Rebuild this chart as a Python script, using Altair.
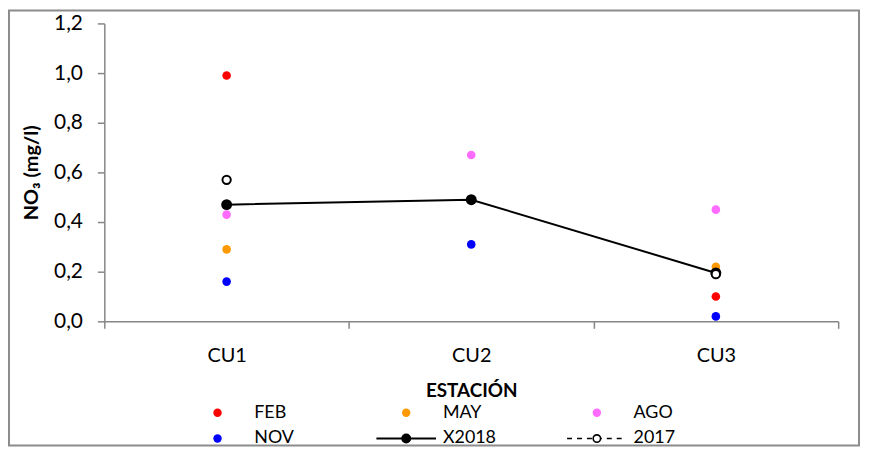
import altair as alt
import pandas as pd

# ---- data ----
stations = ["CU1", "CU2", "CU3"]
feb = [0.99, None, 0.10]
may = [0.29, None, 0.22]
ago = [0.43, 0.67, 0.45]
nov = [0.16, 0.31, 0.02]
x2018 = [0.47, 0.49, 0.195]
y2017 = [0.57, None, 0.19]

month_names = ["FEB", "MAY", "AGO", "NOV"]
month_colors = ["#FF0000", "#FF9900", "#FF6BFF", "#0000FF"]
legend_names = ["FEB", "MAY", "AGO", "NOV", "X2018", "2017"]
y_ticks = [0.0, 0.2, 0.4, 0.6, 0.8, 1.0, 1.2]

# ---- tables ----
rows = []
for name, vals in zip(month_names, [feb, may, ago, nov]):
    for s, v in zip(stations, vals):
        if v is not None:
            rows.append({"station": s, "series": name, "value": v})
months_df = pd.DataFrame(rows)
mean_df = pd.DataFrame({"station": stations, "value": x2018})
y17_df = pd.DataFrame({"station": stations, "value": y2017}).dropna()

W, H = 739, 300
FONT = "Lato"

x_axis = alt.Axis(
    title="ESTACIÓN", titleFont=FONT, titleFontSize=19, titleFontWeight="bold",
    titleColor="black", titlePadding=17,
    labelFont=FONT, labelFontSize=20, labelColor="black", labelPadding=17,
    labelAngle=0, domainColor="#868686", tickColor="#868686", tickSize=7,
    tickBand="extent", domainWidth=1.5, tickWidth=1.5,
)
y_axis = alt.Axis(
    title="NO₃ (mg/l)", titleFont=FONT, titleFontSize=20, titleFontWeight="bold",
    titleColor="black", titlePadding=12,
    labelFont=FONT, labelFontSize=21, labelColor="black", labelPadding=15,
    values=y_ticks, labelExpr="replace(format(datum.value, '.1f'), '.', ',')",
    grid=False, domainColor="#868686", tickColor="#868686", tickSize=7,
    domainWidth=1.5, tickWidth=1.5,
)

xs = alt.Scale(type="band", domain=stations, paddingInner=0, paddingOuter=0)
ys = alt.Scale(domain=[0, 1.2], nice=False, zero=True)


def X():
    return alt.X("station:N", scale=xs, bandPosition=0.5, axis=x_axis)


def Y():
    return alt.Y("value:Q", scale=ys, axis=y_axis)


months = alt.Chart(months_df).mark_circle(size=75, opacity=1).encode(
    x=X(), y=Y(),
    color=alt.Color("series:N", scale=alt.Scale(domain=month_names, range=month_colors), legend=None),
)
mean_line = alt.Chart(mean_df).mark_line(color="black", strokeWidth=2).encode(x=X(), y=Y())
mean_pts = alt.Chart(mean_df).mark_circle(size=120, color="black", opacity=1).encode(x=X(), y=Y())
pts17 = alt.Chart(y17_df).mark_circle(
    size=70, fill="white", stroke="black", strokeWidth=2, opacity=1
).encode(x=X(), y=Y())

data_layer = alt.layer(months, mean_line, mean_pts, pts17)

# ---- manual legend (layout computed here, not in the data lists) ----
col_x = [114, 304, 496]
row_y = [392, 418]
leg_rows = []
for i, name in enumerate(legend_names):
    c, r = i % 3, i // 3
    kind = "dot" if i < 4 else ("mean" if name == "X2018" else "y17")
    color = month_colors[i] if i < 4 else "black"
    leg_rows.append({"name": name, "color": color, "kind": kind,
                     "sx": col_x[c], "sy": row_y[r], "tx": col_x[c] + 37,
                     "lx1": col_x[c] - 30, "lx2": col_x[c] + 30})
leg = pd.DataFrame(leg_rows)

LX = lambda f: alt.X(f"{f}:Q", scale=None, axis=None)
LY = lambda f: alt.Y(f"{f}:Q", scale=None, axis=None)

leg_dots = alt.Chart(leg).transform_filter("datum.kind == 'dot'").mark_circle(size=72, opacity=1).encode(
    x=LX("sx"), y=LY("sy"), color=alt.Color("color:N", scale=None))
leg_mean_line = alt.Chart(leg).transform_filter("datum.kind == 'mean'").mark_rule(
    color="black", strokeWidth=2).encode(x=LX("lx1"), x2="lx2:Q", y=LY("sy"))
leg_mean_pt = alt.Chart(leg).transform_filter("datum.kind == 'mean'").mark_circle(
    size=100, color="black", opacity=1).encode(x=LX("sx"), y=LY("sy"))
leg_17_line = alt.Chart(leg).transform_filter("datum.kind == 'y17'").mark_rule(
    color="black", strokeWidth=1.5, strokeDash=[5, 5]).encode(x=LX("lx1"), x2="lx2:Q", y=LY("sy"))
leg_17_pt = alt.Chart(leg).transform_filter("datum.kind == 'y17'").mark_circle(
    size=55, fill="white", stroke="black", strokeWidth=1.6, opacity=1).encode(x=LX("sx"), y=LY("sy"))
leg_text = alt.Chart(leg).mark_text(
    align="left", baseline="middle", font=FONT, fontSize=18, color="black").encode(
    x=LX("tx"), y=LY("sy"), text="name:N")

frame = alt.Chart(pd.DataFrame({"k": [0]})).mark_rect(
    fillOpacity=0, stroke="#8C8C8C", strokeWidth=2).encode(
    x=alt.value(-96), x2=alt.value(760), y=alt.value(-13), y2=alt.value(425))

legend_layer = alt.layer(leg_dots, leg_mean_line, leg_mean_pt, leg_17_line, leg_17_pt, leg_text, frame)

chart = alt.layer(data_layer, legend_layer).resolve_scale(
    x="independent", y="independent", color="independent"
).properties(
    width=W, height=H,
    padding={"left": 97, "top": 14, "right": 24, "bottom": 125},
    autosize=alt.AutoSizeParams(type="none"),
    background="white",
).configure_view(stroke=None)

chart.save("out.html", embed_options={"renderer": "svg", "actions": False})
